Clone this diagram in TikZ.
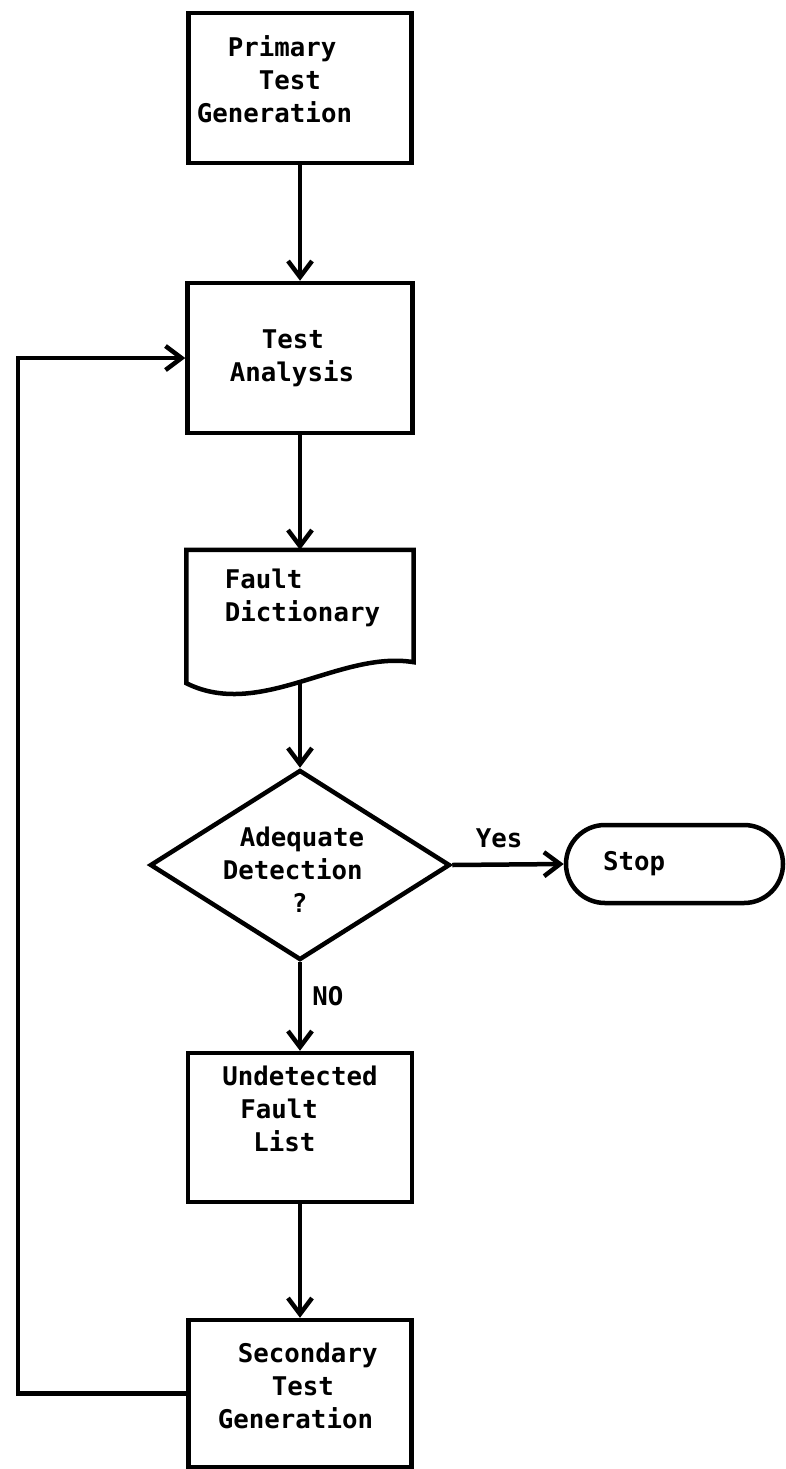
\documentclass[tikz,border=0pt]{standalone}
\usepackage{fontspec}
\setmonofont{DejaVu Sans Mono}
\usetikzlibrary{arrows.meta,shapes.geometric,calc}
\newcommand{\blk}[3]{\hspace*{#1}\raisebox{#2}[\height][\depth]{\begin{tabular}{@{}l@{}}#3\end{tabular}}\hspace*{-#1}}
\tikzset{
  lw/.style={line width=4.5pt},
  txt/.style={font=\ttfamily\bfseries\fontsize{25.75}{33}\selectfont},
  box/.style={draw, lw, txt, inner sep=0pt, line join=miter},
  arr/.style={lw, -{Straight Barb[length=16pt,width=24pt]}},
  lbl/.style={txt, inner sep=0pt}
}
\begin{document}
\begin{tikzpicture}[x=1pt,y=-1pt]
\useasboundingbox (0,0) rectangle (785,1469);
\fill[white] (0,0) rectangle (785,1469);

\node[box, minimum width=223pt, minimum height=150pt] (b1) at (300,88)
  {\blk{-25.5pt}{5pt}{\hspace*{31pt}Primary\\ \hspace*{62pt}Test\\ Generation}};

\node[box, minimum width=225pt, minimum height=150pt] (ta) at (300,358)
  {\blk{-8pt}{0pt}{\hspace*{32pt}Test\\ Analysis}};

\node[txt, inner sep=0pt, minimum width=227pt, minimum height=112pt] (fd) at (300,606)
  {\blk{2.5pt}{7.5pt}{Fault\\ Dictionary}};
\draw[lw, line join=miter] (fd.north west) -- (fd.north east) -- (fd.south east)
  .. controls (340,650) and (260,720) .. ($(fd.south west)+(0,21)$) -- cycle;
\coordinate (fdb) at (300,682);

\node[diamond, draw, lw, txt, aspect=1.58, inner sep=0pt, minimum width=300pt, minimum height=190pt] (dec) at (300,865)
  {\blk{-6.5pt}{-8pt}{\hspace*{17pt}Adequate\\ Detection\\ \hspace*{69pt}?}};

\node[draw, lw, txt, rounded corners=39pt, minimum width=217pt, minimum height=78pt, inner sep=0pt] (stop) at (674.5,864)
  {\blk{-40.5pt}{0pt}{Stop}};

\node[box, minimum width=224pt, minimum height=149pt] (und) at (300,1127.5)
  {\blk{0pt}{16pt}{Undetected\\ \hspace*{18pt}Fault\\ \hspace*{31pt}List}};

\node[box, minimum width=223pt, minimum height=147pt] (sec) at (300,1393.5)
  {\blk{-2.25pt}{4.5pt}{\hspace*{20pt}Secondary\\ \hspace*{54pt}Test\\ Generation}};

\coordinate (lx) at (18,0);

\draw[arr] (b1.south) -- (ta.north);
\draw[arr] (ta.south) -- (fd.north);
\draw[arr] (fdb) -- (dec.north);
\draw[arr] (dec.east) -- node[lbl, above=14pt, pos=0.42] (yes) {Yes} (stop.west);
\draw[arr] (dec.south) -- node[lbl, anchor=west, pos=0.38, xshift=10pt] (no) {NO} (und.north);
\draw[arr] (und.south) -- (sec.north);
\draw[arr, line join=miter] (sec.west) -- (sec.west -| lx) |- (ta.west);
\end{tikzpicture}
\end{document}
